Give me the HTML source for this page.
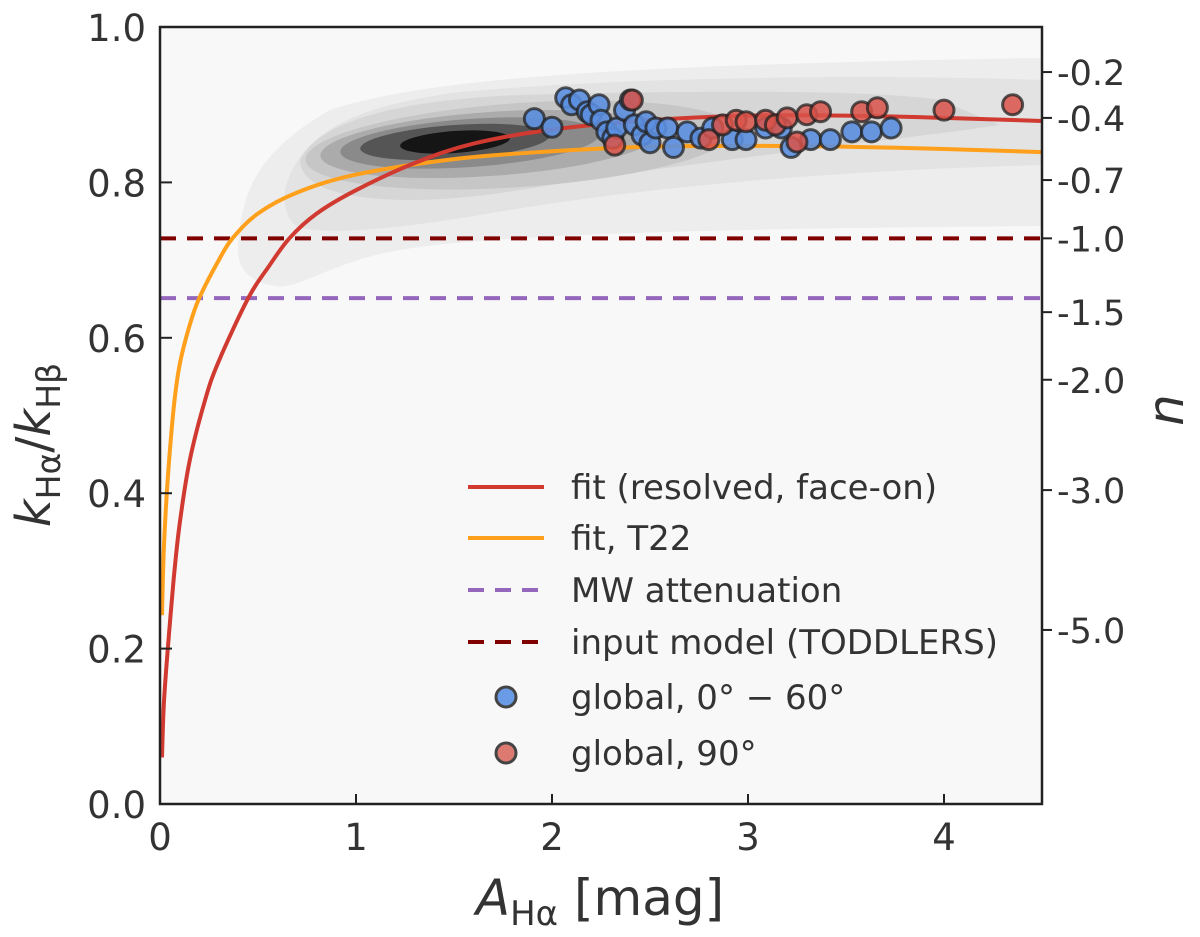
<!DOCTYPE html>
<html><head><meta charset="utf-8"><style>
body{margin:0;background:#fff;}
svg text{font-family:"DejaVu Sans","Liberation Sans",sans-serif;fill:#333;}
</style></head><body>
<svg id="chart" width="1200" height="932" xmlns="http://www.w3.org/2000/svg">
<rect x="160" y="27" width="882" height="777" fill="#f8f8f8"/>
<g>
<path d="M238,250 C240,190 260,150 330,110 C420,80 600,65 1042,58 L1042,226 C800,228 500,232 400,250 C330,262 300,290 275,286 C250,282 238,270 238,250 Z" fill="#ededed"/>
<path d="M285,190 C300,130 360,105 460,92 C650,75 900,75 1042,80 L1042,165 C850,170 650,185 480,215 C380,232 310,235 295,225 C285,215 284,205 285,190 Z" fill="#e3e3e3"/>
<path d="M300,160 C320,120 400,100 520,95 C700,90 880,90 940,100 L1000,125 C900,140 700,160 520,190 C400,210 300,200 300,160 Z" fill="#d6d6d6"/>
<ellipse cx="520" cy="145" rx="215" ry="42" transform="rotate(-4 520 145)" fill="#c6c6c6"/>
<ellipse cx="490" cy="144" rx="170" ry="32" transform="rotate(-4 490 144)" fill="#ababab"/>
<ellipse cx="470" cy="143" rx="130" ry="24" transform="rotate(-4 470 143)" fill="#8a8a8a"/>
<ellipse cx="455" cy="142" rx="95" ry="17" transform="rotate(-4 455 142)" fill="#555"/>
<ellipse cx="455" cy="142" rx="55" ry="11" transform="rotate(-4 455 142)" fill="#151515"/>
</g>
<g id="marks"></g>
<rect x="160" y="27" width="882" height="777" fill="none" stroke="#222" stroke-width="2.5"/>
<g id="axes"></g>
<text x="600" y="915" font-size="50" text-anchor="middle"><tspan font-style="italic">A</tspan><tspan font-size="34" dy="10">Hα</tspan><tspan dy="-10"> [mag]</tspan></text>
<text transform="translate(50,445) rotate(-90)" font-size="48" text-anchor="middle"><tspan font-style="italic">k</tspan><tspan font-size="33" dy="10">Hα</tspan><tspan dy="-10">/</tspan><tspan font-style="italic">k</tspan><tspan font-size="33" dy="10">Hβ</tspan></text>
<text transform="translate(1183,410) rotate(-90)" font-size="50" font-style="italic" text-anchor="middle">n</text>
<g id="legend"></g>
</svg>
<script>
const xTicks=[0,1,2,3,4];
const yTicks=[0.0,0.2,0.4,0.6,0.8,1.0];
const nTickLabels=["-0.2","-0.4","-0.7","-1.0","-1.5","-2.0","-3.0","-5.0"];
const nTickK=[0.942,0.883,0.803,0.728,0.633,0.546,0.404,0.224];
const redFitX=[0.01,0.02,0.04,0.07,0.1,0.15,0.23,0.3,0.45,0.55,0.66,0.8,1.0,1.3,1.6,2.0,2.5,3.0,3.5,4.0,4.5];
const redFitY=[0.06,0.13,0.20,0.29,0.36,0.44,0.52,0.57,0.651,0.69,0.728,0.76,0.79,0.825,0.85,0.868,0.88,0.886,0.886,0.883,0.879];
const orangeFitX=[0.01,0.02,0.04,0.07,0.1,0.15,0.2,0.3,0.37,0.5,0.7,1.0,1.5,2.0,2.5,3.0,3.5,4.0,4.5];
const orangeFitY=[0.243,0.33,0.42,0.51,0.565,0.615,0.651,0.70,0.728,0.76,0.787,0.81,0.83,0.84,0.846,0.847,0.846,0.843,0.839];
const mwLevel=0.651;
const toddlersLevel=0.728;
const blueX=[1.91,2.00,2.07,2.10,2.14,2.18,2.20,2.24,2.25,2.28,2.31,2.33,2.37,2.40,2.42,2.46,2.48,2.50,2.53,2.59,2.62,2.69,2.76,2.82,2.92,2.99,3.09,3.17,3.22,3.32,3.42,3.53,3.63,3.73];
const blueY=[0.882,0.871,0.909,0.900,0.906,0.891,0.887,0.900,0.880,0.865,0.857,0.870,0.893,0.906,0.874,0.861,0.878,0.851,0.870,0.870,0.845,0.865,0.857,0.870,0.855,0.855,0.870,0.870,0.845,0.855,0.855,0.865,0.865,0.870];
const redX=[2.41,2.32,2.80,2.87,2.94,2.99,3.09,3.14,3.20,3.25,3.30,3.37,3.58,3.66,4.00,4.35];
const redY=[0.906,0.848,0.855,0.874,0.880,0.878,0.880,0.874,0.883,0.852,0.887,0.891,0.891,0.896,0.893,0.900];

const X0=160,X1=1042,Y0=804,Y1=27,XMAX=4.5;
const sx=v=>X0+(v/XMAX)*(X1-X0);
const sy=v=>Y0-v*(Y0-Y1);
const NS="http://www.w3.org/2000/svg";
function mk(tag,attrs,parent){const e=document.createElementNS(NS,tag);for(const k in attrs)e.setAttribute(k,attrs[k]);parent.appendChild(e);return e;}
const marks=document.getElementById('marks'),axes=document.getElementById('axes'),legend=document.getElementById('legend');

let l=mk('line',{x1:X0,x2:X1,y1:sy(toddlersLevel),y2:sy(toddlersLevel),stroke:'#800000','stroke-width':4,'stroke-dasharray':'16,11'},marks);


l=mk('line',{x1:X0,x2:X1,y1:sy(mwLevel),y2:sy(mwLevel),stroke:'#9467bd','stroke-width':4,'stroke-dasharray':'16,11'},marks);


function pathOf(xs,ys){const P=xs.map((x,i)=>[sx(x),sy(ys[i])]);let d='M'+P[0][0].toFixed(1)+','+P[0][1].toFixed(1);
for(let i=0;i<P.length-1;i++){const p0=P[Math.max(0,i-1)],p1=P[i],p2=P[i+1],p3=P[Math.min(P.length-1,i+2)];
const c1=[p1[0]+(p2[0]-p0[0])/6,p1[1]+(p2[1]-p0[1])/6],c2=[p2[0]-(p3[0]-p1[0])/6,p2[1]-(p3[1]-p1[1])/6];
d+=' C'+c1.map(v=>v.toFixed(1)).join(',')+' '+c2.map(v=>v.toFixed(1)).join(',')+' '+p2.map(v=>v.toFixed(1)).join(',');}
return d;}
let p=mk('path',{d:pathOf(orangeFitX,orangeFitY),fill:'none',stroke:'#ffa01c','stroke-width':4},marks);


p=mk('path',{d:pathOf(redFitX,redFitY),fill:'none',stroke:'#d03a30','stroke-width':4},marks);


blueX.forEach((x,i)=>{const c=mk('circle',{cx:sx(x),cy:sy(blueY[i]),r:10,fill:'#5b8fe0','fill-opacity':0.9,stroke:'#222','stroke-opacity':0.75,'stroke-width':3},marks);

});
redX.forEach((x,i)=>{const c=mk('circle',{cx:sx(x),cy:sy(redY[i]),r:10,fill:'#d9534a','fill-opacity':0.85,stroke:'#222','stroke-opacity':0.75,'stroke-width':3},marks);

});

xTicks.forEach(v=>{const x=sx(v);mk('line',{x1:x,x2:x,y1:Y0,y2:Y0-10,stroke:'#222','stroke-width':2},axes);
const t=mk('text',{x:x,y:Y0+46,'font-size':37,'text-anchor':'middle'},axes);t.textContent=v;

});
yTicks.forEach(v=>{const y=sy(v);mk('line',{x1:X0,x2:X0+12,y1:y,y2:y,stroke:'#222','stroke-width':2},axes);
const t=mk('text',{x:X0-14,y:y+14,'font-size':37,'text-anchor':'end'},axes);t.textContent=v.toFixed(1);

});
nTickK.forEach((k,i)=>{const y=sy(k);mk('line',{x1:X1,x2:X1+10,y1:y,y2:y,stroke:'#222','stroke-width':2},axes);
const t=mk('text',{x:X1+15,y:y+13,'font-size':35},axes);t.textContent=nTickLabels[i];

});

const legItems=[['line','#d03a30','fit (resolved, face-on)'],['line','#ffa01c','fit, T22'],['dash','#9467bd','MW attenuation'],['dash','#800000','input model (TODDLERS)'],['dot','#6a9be6','global, 0° − 60°'],['dot','#dc7a72','global, 90°']];
const legRowY=[487,538,590,642,697,753];
legItems.forEach((it,i)=>{const y=legRowY[i];
if(it[0]==='dot'){mk('circle',{cx:506,cy:y,r:10,fill:it[1],stroke:'#444','stroke-width':3},legend);}
else{mk('line',{x1:468,x2:544,y1:y,y2:y,stroke:it[1],'stroke-width':4,'stroke-dasharray':it[0]==='dash'?'16,11':'none'},legend);}
const t=mk('text',{x:571,y:y+12,'font-size':34},legend);t.textContent=it[2];

});
</script>
</body></html>
